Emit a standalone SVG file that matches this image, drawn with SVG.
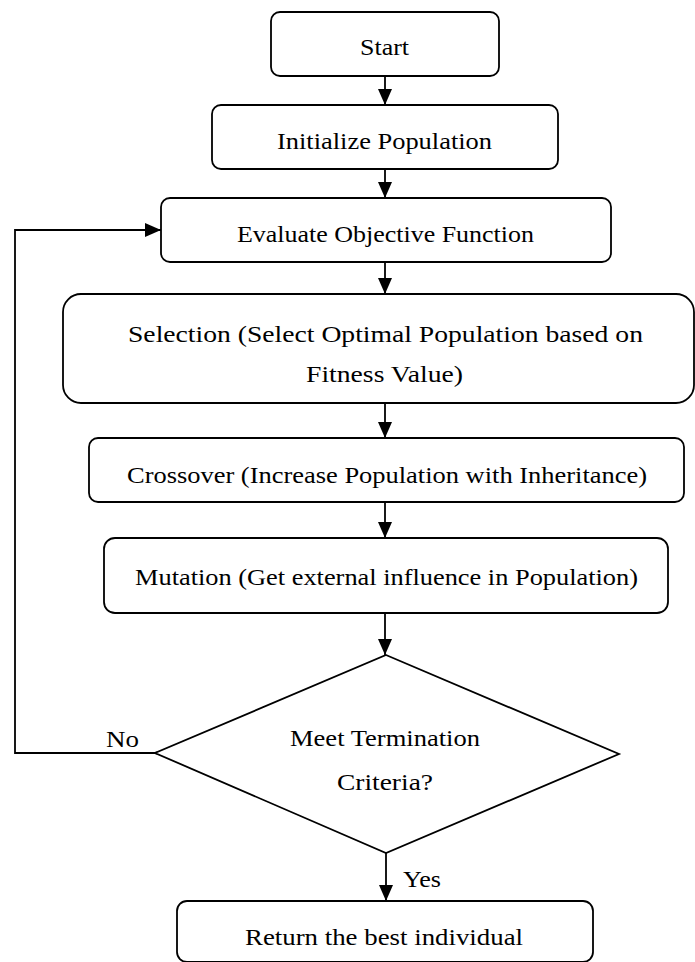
<svg xmlns="http://www.w3.org/2000/svg" width="695" height="962" viewBox="0 0 695 962">
<style>
.box{fill:#fff;stroke:#000;stroke-width:1.8}
.t{font-family:"Liberation Serif","Times New Roman",serif;font-size:23px;fill:#000}
.c{fill:none;stroke:#000;stroke-width:1.8}
</style>
<defs>
<marker id="ah" markerUnits="userSpaceOnUse" markerWidth="16" markerHeight="14" refX="16" refY="7" orient="auto">
<path d="M0,0 L16,7 L0,14 z" fill="#000"/>
</marker>
</defs>
<rect width="695" height="962" fill="#fff"/>
<g id="connectors">
<line class="c" x1="385" y1="76" x2="385" y2="105" marker-end="url(#ah)"/>
<line class="c" x1="385" y1="169" x2="385" y2="198" marker-end="url(#ah)"/>
<line class="c" x1="385" y1="262" x2="385" y2="294" marker-end="url(#ah)"/>
<line class="c" x1="385" y1="403" x2="385" y2="438" marker-end="url(#ah)"/>
<line class="c" x1="385" y1="502" x2="385" y2="538" marker-end="url(#ah)"/>
<line class="c" x1="385" y1="613" x2="385" y2="655" marker-end="url(#ah)"/>
<line class="c" x1="386" y1="853" x2="386" y2="901" marker-end="url(#ah)"/>
<polyline class="c" points="155,753 15,753 15,230 161,230" marker-end="url(#ah)"/>
<path class="c" d="M167,750.5 L155,753 L167,755.5" stroke-width="1.2"/>
<text class="t" x="106" y="747" textLength="33" lengthAdjust="spacingAndGlyphs">No</text>
<text class="t" x="403" y="887" textLength="38" lengthAdjust="spacingAndGlyphs">Yes</text>
</g>
<g id="start">
<rect class="box" x="271" y="12" width="228" height="64" rx="9"/>
<text class="t" x="360" y="55" textLength="49" lengthAdjust="spacingAndGlyphs">Start</text>
</g>
<g id="init">
<rect class="box" x="212" y="105" width="346" height="64" rx="9"/>
<text class="t" x="277" y="149" textLength="215" lengthAdjust="spacingAndGlyphs">Initialize Population</text>
</g>
<g id="evaluate">
<rect class="box" x="161" y="198" width="450" height="64" rx="9"/>
<text class="t" x="237" y="242" textLength="297" lengthAdjust="spacingAndGlyphs">Evaluate Objective Function</text>
</g>
<g id="selection">
<rect class="box" x="63" y="294" width="631" height="109" rx="18"/>
<text class="t" x="128" y="342" textLength="515" lengthAdjust="spacingAndGlyphs">Selection (Select Optimal Population based on</text>
<text class="t" x="306" y="382" textLength="157" lengthAdjust="spacingAndGlyphs">Fitness Value)</text>
</g>
<g id="crossover">
<rect class="box" x="89" y="438" width="595" height="64" rx="9"/>
<text class="t" x="127" y="483" textLength="520" lengthAdjust="spacingAndGlyphs">Crossover (Increase Population with Inheritance)</text>
</g>
<g id="mutation">
<rect class="box" x="104" y="538" width="564" height="75" rx="11"/>
<text class="t" x="135" y="585" textLength="503" lengthAdjust="spacingAndGlyphs">Mutation (Get external influence in Population)</text>
</g>
<g id="decision">
<polygon class="box" points="386,655 619,754 386,853 155,753"/>
<text class="t" x="290" y="746" textLength="190" lengthAdjust="spacingAndGlyphs">Meet Termination</text>
<text class="t" x="337" y="790" textLength="96" lengthAdjust="spacingAndGlyphs">Criteria?</text>
</g>
<g id="return">
<rect class="box" x="177" y="901" width="416" height="61" rx="10"/>
<text class="t" x="245" y="945" textLength="278" lengthAdjust="spacingAndGlyphs">Return the best individual</text>
</g>
</svg>
